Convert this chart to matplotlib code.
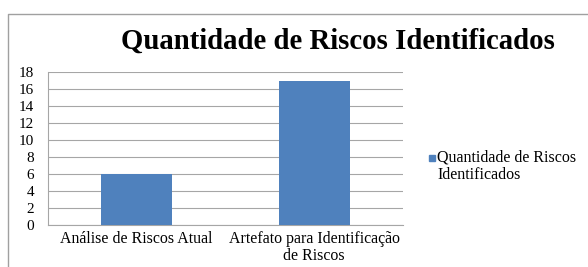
import numpy as np
import matplotlib.pyplot as plt
from matplotlib.lines import Line2D
from matplotlib.patches import Rectangle

categories = ["Análise de Riscos Atual", "Artefato para Identificação\nde Riscos"]
values = [6, 17]
series_name = "Quantidade de Riscos\nIdentificados"
title = "Quantidade de Riscos Identificados"
yticks = list(range(0, 19, 2))

plt.rcParams['font.family'] = ['Liberation Serif', 'DejaVu Serif']

fig = plt.figure(figsize=(5.88, 2.67), dpi=100)
ax = fig.add_axes([48/588, 1 - 225/267, 355/588, 153/267])

color = "#4F81BD"
x = np.arange(len(categories))
ax.bar(x, values, width=0.4, color=color, zorder=3)

ax.set_xlim(-0.5, len(categories) - 0.5)
ax.set_ylim(0, 18)
ax.set_yticks(yticks)
ax.set_xticks(x)
ax.set_xticklabels(categories, fontsize=11.4, linespacing=1.15)
ax.tick_params(axis='y', labelsize=11, length=0, pad=10)
ax.tick_params(axis='x', length=0, pad=4)
ax.grid(axis='y', color="#a6a6a6", linewidth=0.8, zorder=0)
for s in ["top", "right"]:
    ax.spines[s].set_visible(False)
ax.spines["left"].set_color("#a6a6a6")
ax.spines["bottom"].set_color("#a6a6a6")

fig.text(338/588, 1 - 41/267, title, ha="center", va="center",
         fontsize=20.7, fontweight="bold")

# legend
fig.patches.append(Rectangle((429/588, 1 - 161/267), 6/588, 6/267,
                             transform=fig.transFigure, color=color))
fig.text(437/588, 1 - 149/267, series_name, ha="left", va="top",
         fontsize=11.5, linespacing=1.15)

# outer frame (top and left only)
fig.add_artist(Line2D([8/588, 8/588, 1], [0, 1 - 14/267, 1 - 14/267],
                      transform=fig.transFigure, color="#a0a0a0", linewidth=1))

fig.savefig("out.png", dpi=100)
